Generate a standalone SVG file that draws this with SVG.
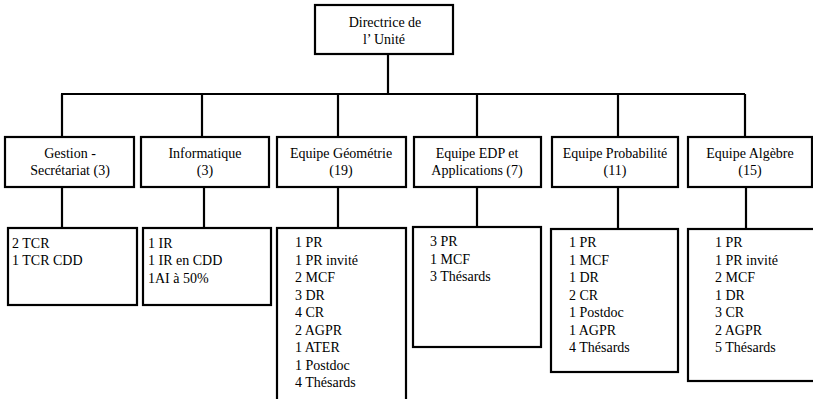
<svg xmlns="http://www.w3.org/2000/svg" width="813" height="399" viewBox="0 0 813 399">
<style>
rect{fill:#fff;stroke:#000;stroke-width:2.2}
line{stroke:#000;stroke-width:2.2}
text{font-size:14px;fill:#000}
.c{text-anchor:middle}
</style>
<g id="connectors">
<line x1="388" y1="54" x2="388" y2="94"/>
<line x1="61" y1="94" x2="745" y2="94"/>
<line x1="62" y1="94" x2="62" y2="137"/>
<line x1="202" y1="94" x2="202" y2="137"/>
<line x1="338" y1="94" x2="338" y2="137"/>
<line x1="477" y1="94" x2="477" y2="137"/>
<line x1="618" y1="94" x2="618" y2="137"/>
<line x1="745" y1="94" x2="745" y2="137"/>
<line x1="62" y1="187" x2="62" y2="228"/>
<line x1="204" y1="187" x2="204" y2="228"/>
<line x1="338" y1="187" x2="338" y2="228"/>
<line x1="477" y1="187" x2="477" y2="228"/>
<line x1="618" y1="187" x2="618" y2="229"/>
<line x1="746" y1="187" x2="746" y2="229"/>
</g>
<g font-family="'Liberation Serif', 'Tinos', 'DejaVu Serif', serif">
<g id="n-dir"><rect x="315" y="5" width="138" height="49"/><text class="c" x="385" y="27">Directrice de</text><text class="c" x="384" y="44">l’ Unité</text></g>
<g id="n-gestion"><rect x="5" y="137" width="129" height="50"/><text class="c" x="70" y="158">Gestion -</text><text class="c" x="70" y="175">Secrétariat (3)</text></g>
<g id="n-info"><rect x="141" y="137" width="128" height="50"/><text class="c" x="205" y="158">Informatique</text><text class="c" x="205" y="175">(3)</text></g>
<g id="n-geo"><rect x="277" y="137" width="129" height="50"/><text class="c" x="341" y="158">Equipe Géométrie</text><text class="c" x="341" y="175">(19)</text></g>
<g id="n-edp"><rect x="414" y="137" width="127" height="50"/><text class="c" x="477" y="158">Equipe EDP et</text><text class="c" x="477" y="175">Applications (7)</text></g>
<g id="n-prob"><rect x="552" y="137" width="126" height="50"/><text class="c" x="615" y="158">Equipe Probabilité</text><text class="c" x="615" y="175">(11)</text></g>
<g id="n-alg"><rect x="688" y="137" width="124" height="50"/><text class="c" x="750" y="158">Equipe Algèbre</text><text class="c" x="750" y="175">(15)</text></g>
<g id="n-gestion-d"><rect x="8" y="228" width="129" height="77"/><text x="12" y="248">2 TCR</text><text x="12" y="265">1 TCR CDD</text></g>
<g id="n-info-d"><rect x="143" y="228" width="128" height="77"/><text x="148" y="248">1 IR</text><text x="148" y="265">1 IR en CDD</text><text x="148" y="283">1AI à 50%</text></g>
<g id="n-geo-d"><rect x="277" y="228" width="129" height="180"/><text x="295" y="247">1 PR</text><text x="295" y="264.5">1 PR invité</text><text x="295" y="282">2 MCF</text><text x="295" y="299.5">3 DR</text><text x="295" y="317">4 CR</text><text x="295" y="334.5">2 AGPR</text><text x="295" y="352">1 ATER</text><text x="295" y="369.5">1 Postdoc</text><text x="295" y="387">4 Thésards</text></g>
<g id="n-edp-d"><rect x="413" y="227" width="128" height="120"/><text x="430" y="246">3 PR</text><text x="430" y="263.5">1 MCF</text><text x="430" y="281">3 Thésards</text></g>
<g id="n-prob-d"><rect x="551" y="229" width="127" height="143"/><text x="569" y="247">1 PR</text><text x="569" y="264.5">1 MCF</text><text x="569" y="282">1 DR</text><text x="569" y="299.5">2 CR</text><text x="569" y="317">1 Postdoc</text><text x="569" y="334.5">1 AGPR</text><text x="569" y="352">4 Thésards</text></g>
<g id="n-alg-d"><rect x="688" y="229" width="140" height="152"/><text x="715" y="247">1 PR</text><text x="715" y="264.5">1 PR invité</text><text x="715" y="282">2 MCF</text><text x="715" y="299.5">1 DR</text><text x="715" y="317">3 CR</text><text x="715" y="334.5">2 AGPR</text><text x="715" y="352">5 Thésards</text></g>
</g>
</svg>
